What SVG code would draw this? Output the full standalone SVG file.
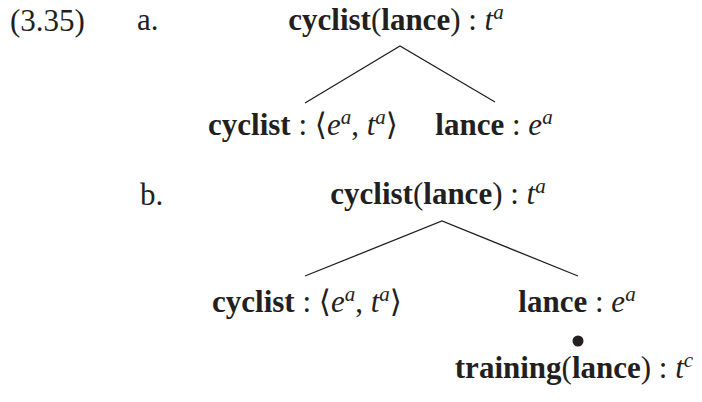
<svg xmlns="http://www.w3.org/2000/svg" width="702" height="402" viewBox="0 0 702 402">
<style>
text{font-family:"Liberation Serif","DejaVu Serif",serif;font-size:31px;fill:#231f20}
.b{font-weight:bold}
.i{font-style:italic}
.s{font-style:italic;font-size:21px}
.br{font-family:"DejaVu Serif",serif;font-size:31px;font-weight:normal}
.ln{stroke:#231f20;stroke-width:1.3;fill:none}
</style>
<rect width="702" height="402" fill="#fff"/>
<g id="labels">
<text x="10" y="31">(3.35)</text>
<text x="137" y="30">a.</text>
<text x="140" y="205">b.</text>
</g>
<g id="connectors">
<polyline class="ln" points="305,103 400,46 495,102"/>
<polyline class="ln" points="305,276 442,221 578,276"/>
</g>
<g id="a-root"><text x="396" y="30" text-anchor="middle"><tspan class="b">cyclist</tspan>(<tspan class="b">lance</tspan>) : <tspan class="i">t</tspan><tspan class="s" dy="-11">a</tspan></text></g>
<g id="a-left"><text x="303" y="135" text-anchor="middle"><tspan class="b">cyclist</tspan> : <tspan class="br">⟨</tspan><tspan class="i">e</tspan><tspan class="s" dy="-11">a</tspan><tspan dy="11">, </tspan><tspan class="i">t</tspan><tspan class="s" dy="-11">a</tspan><tspan class="br" dy="11">⟩</tspan></text></g>
<g id="a-right"><text x="494" y="135" text-anchor="middle"><tspan class="b">lance</tspan> : <tspan class="i">e</tspan><tspan class="s" dy="-11">a</tspan></text></g>
<g id="b-root"><text x="438" y="204" text-anchor="middle"><tspan class="b">cyclist</tspan>(<tspan class="b">lance</tspan>) : <tspan class="i">t</tspan><tspan class="s" dy="-11">a</tspan></text></g>
<g id="b-left"><text x="307" y="312" text-anchor="middle"><tspan class="b">cyclist</tspan> : <tspan class="br">⟨</tspan><tspan class="i">e</tspan><tspan class="s" dy="-11">a</tspan><tspan dy="11">, </tspan><tspan class="i">t</tspan><tspan class="s" dy="-11">a</tspan><tspan class="br" dy="11">⟩</tspan></text></g>
<g id="b-right"><text x="577" y="312" text-anchor="middle"><tspan class="b">lance</tspan> : <tspan class="i">e</tspan><tspan class="s" dy="-11">a</tspan></text></g>
<g id="b-bullet"><circle cx="578" cy="341" r="5.5" fill="#231f20"/></g>
<g id="b-training"><text x="574" y="378" text-anchor="middle"><tspan class="b">training</tspan>(<tspan class="b">lance</tspan>) : <tspan class="i">t</tspan><tspan class="s" dy="-11">c</tspan></text></g>
</svg>
